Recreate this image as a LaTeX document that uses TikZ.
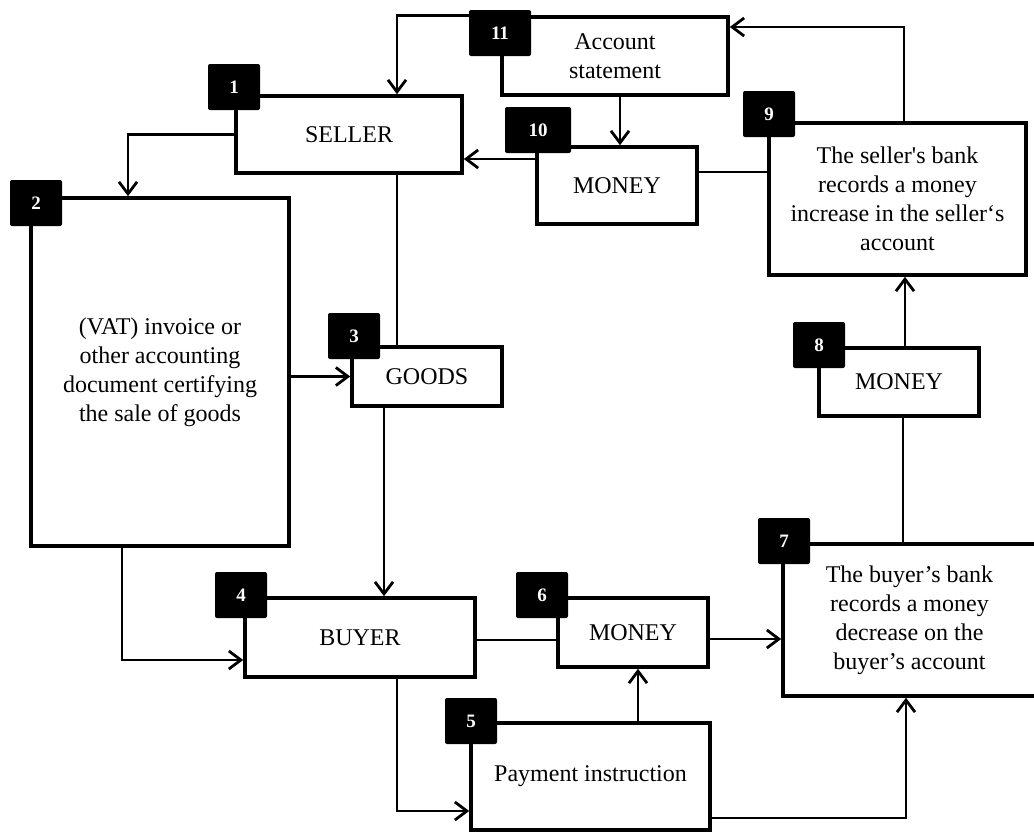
\documentclass[tikz,border=0pt]{standalone}
\usepackage{fontspec}
\setmainfont{Liberation Serif}
\usetikzlibrary{arrows.meta}
\tikzset{
  box/.style={draw,line width=3.6pt,align=center,inner sep=0pt,
    font=\fontsize{24}{29}\selectfont},
  num/.style={fill=black,text=white,rounded corners=2pt,inner sep=0pt,
    minimum width=52pt,minimum height=46pt,font=\fontsize{19}{19}\selectfont\bfseries},
  conn/.style={line width=2.8pt},
}
\def\dline{\draw[conn]}
\def\darr{\draw[conn,-{Straight Barb[length=12pt,width=18pt]}]}

\begin{document}
\begin{tikzpicture}[x=1pt,y=-1pt]
\useasboundingbox (0,0) rectangle (1034,833);
% boxes
\node[box,minimum width=226pt,minimum height=77pt] (seller) at (349,134.5) {SELLER};
\node[box,minimum width=226pt,minimum height=78pt] (stmt) at (615,56) {Account\\statement};
\node[box,minimum width=160pt,minimum height=77pt] (money10) at (617,185.5) {MONEY};
\node[box,minimum width=257pt,minimum height=152pt] (sbank) at (897.5,199)
  {The seller\textquotesingle s bank\\records a money\\increase in the seller‘s\\account};
\node[box,minimum width=258pt,minimum height=348pt] (invoice) at (160,372)
  {(VAT) invoice or\\other accounting\\document certifying\\the sale of goods};
\node[box,minimum width=150pt,minimum height=59pt] (goods) at (427,376.5) {GOODS};
\node[box,minimum width=160pt,minimum height=68pt] (money8) at (899,382) {MONEY};
\node[box,minimum width=253pt,minimum height=152pt] (bbank) at (909.5,620)
  {The buyer’s bank\\records a money\\decrease on the\\buyer’s account};
\node[box,minimum width=230pt,minimum height=79pt] (buyer) at (360,637.5) {BUYER};
\node[box,minimum width=150pt,minimum height=69pt] (money6) at (633,632.5) {MONEY};
\node[box,minimum width=239pt,minimum height=107pt] (pay) at (590.5,776.5) {Payment instruction};
% connectors
\darr (stmt.north west) -| (seller.north -| 397,0);
\darr (seller.west) -| (invoice.north -| 128,0);
\dline (seller.south -| 397,0) -- (goods.north -| 397,0);
\darr (invoice.east |- goods.west) -- (goods.west);
\darr (goods.south -| 384,0) -- (buyer.north -| 384,0);
\darr (invoice.south -| 122,0) |- (buyer.west |- 0,660);
\dline (buyer.east |- 0,640) -- (money6.west |- 0,640);
\darr (money6.east |- 0,639) -- (bbank.west |- 0,639);
\darr (buyer.south -| 397,0) |- (pay.west |- 0,811);
\darr (pay.north -| 638,0) -- (money6.south -| 638,0);
\darr (pay.east |- 0,818) -| (bbank.south -| 906,0);
\dline (bbank.north -| 903,0) -- (money8.south -| 903,0);
\darr (money8.north -| 905,0) -- (sbank.south -| 905,0);
\darr (sbank.north -| 904,0) |- (stmt.east |- 0,27);
\dline (money10.east |- 0,172) -- (sbank.west |- 0,172);
\darr (money10.west |- 0,159) -- (seller.east |- 0,159);
\darr (stmt.south -| 620,0) -- (money10.north -| 620,0);
% numbers
\node[num] (n1) at (234,87) {1};
\node[num] (n2) at (36,203) {2};
\node[num] (n3) at (354,336) {3};
\node[num] (n4) at (241,595) {4};
\node[num] (n5) at (471,721) {5};
\node[num] (n6) at (542,595) {6};
\node[num] (n7) at (784,541) {7};
\node[num] (n8) at (819,345) {8};
\node[num] (n9) at (769,114) {9};
\node[num,minimum width=66pt] (n10) at (538,130) {10};
\node[num,minimum width=62pt] (n11) at (500,33) {11};
\end{tikzpicture}
\end{document}
